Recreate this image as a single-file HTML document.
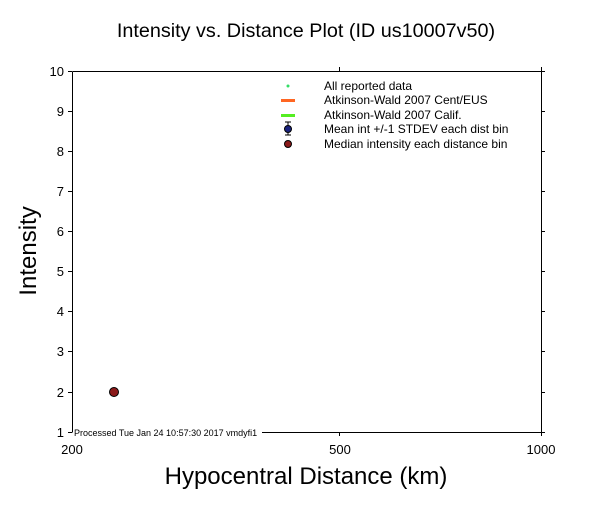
<!DOCTYPE html>
<html><head><style>body{margin:0;background:#fff}</style></head><body>
<svg width="612" height="504" xmlns="http://www.w3.org/2000/svg" font-family="Liberation Sans, sans-serif">
<rect width="612" height="504" fill="#fff"/>
<text x="306" y="37" font-size="19.8" text-anchor="middle">Intensity vs. Distance Plot (ID us10007v50)</text>
<g stroke="#000" stroke-width="1" fill="none">
<path d="M72.5 71.5H541.5V432.5M72.5 71.5V432.5M262 432.5H541.5"/>
<path d="M68 71.5h4M68 111.5h4M68 151.5h4M68 191.5h4M68 231.5h4M68 271.5h4M68 311.5h4M68 351.5h4M68 392.5h4M68 432.5h4"/>
<path d="M541 71.5h4M541 111.5h4M541 151.5h4M541 191.5h4M541 231.5h4M541 271.5h4M541 311.5h4M541 351.5h4M541 392.5h4M541 432.5h4"/>
<path d="M339.5 432v4M541.5 432v4M339.5 71v-4M541.5 71v-4"/>
</g>
<g font-size="13" text-anchor="end">
<text x="64" y="76">10</text><text x="64" y="116">9</text><text x="64" y="156">8</text><text x="64" y="196">7</text><text x="64" y="236">6</text><text x="64" y="276">5</text><text x="64" y="316">4</text><text x="64" y="356">3</text><text x="64" y="397">2</text><text x="64" y="437">1</text>
</g>
<g font-size="13" text-anchor="middle">
<text x="72" y="454">200</text><text x="340" y="454">500</text><text x="541" y="454">1000</text>
</g>
<text x="74" y="436" font-size="9">Processed Tue Jan 24 10:57:30 2017 vmdyfi1</text>
<text x="306" y="484" font-size="24" text-anchor="middle">Hypocentral Distance (km)</text>
<text transform="translate(36 251) rotate(-90)" font-size="24" text-anchor="middle">Intensity</text>
<circle cx="114" cy="392" r="4.5" fill="#8b1a1a" stroke="#000"/>
<circle cx="288" cy="86" r="1.5" fill="#33dd66"/>
<rect x="281" y="99" width="14" height="3" fill="#ff6622"/>
<rect x="281" y="114" width="14" height="3" fill="#55ee22"/>
<path d="M288 122v13M285 122h6M285 135h6" stroke="#000"/>
<circle cx="288" cy="129" r="3.5" fill="#1a237e" stroke="#000"/>
<circle cx="288" cy="144" r="3.5" fill="#8b1a1a" stroke="#000"/>
<g font-size="12">
<text x="324" y="90">All reported data</text>
<text x="324" y="104">Atkinson-Wald 2007 Cent/EUS</text>
<text x="324" y="119">Atkinson-Wald 2007 Calif.</text>
<text x="324" y="133">Mean int +/-1 STDEV each dist bin</text>
<text x="324" y="148">Median intensity each distance bin</text>
</g>
</svg>
</body></html>
